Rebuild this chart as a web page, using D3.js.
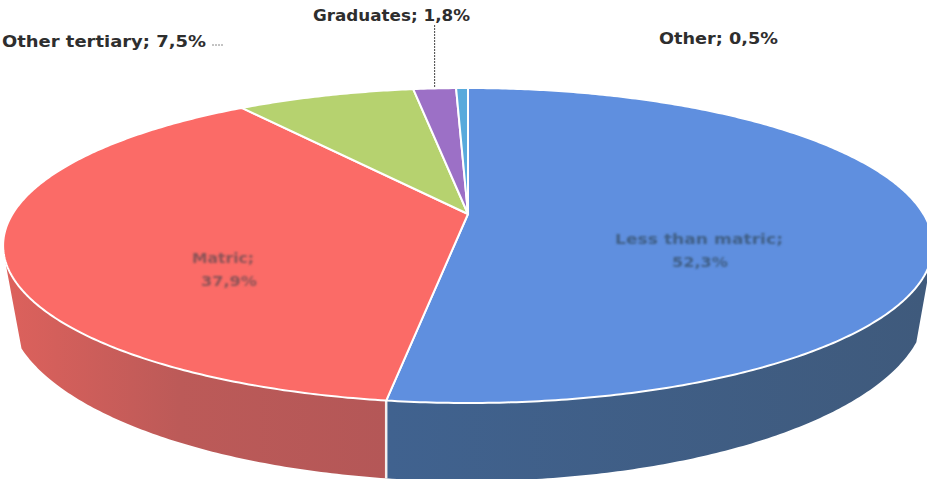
<!DOCTYPE html>
<html>
<head>
<meta charset="utf-8">
<script src="https://cdn.jsdelivr.net/npm/d3@7"></script>
<style>
html, body { margin: 0; padding: 0; background: #fff; }
svg { display: block; }
text { font-family: "DejaVu Sans", sans-serif; }
</style>
</head>
<body>
<svg id="chart" width="927" height="479"></svg>
<script>
// Shares of the population by highest level of education
const categories = ["Less than matric", "Matric", "Other tertiary", "Graduates", "Other"];
const shares = [52.3, 37.9, 7.5, 1.8, 0.5];

const topColors = ["#5f8fdf", "#fb6b67", "#b6d26f", "#9c70c6", "#58aadc"];

const svg = d3.select("#chart");
const pct = v => d3.format(".1f")(v).replace(".", ",") + "%";
const deg = d => d * Math.PI / 180;

const slices = d3.pie().sort(null).value(d => d)(shares);

// Perspective projection of a unit disc: the far edge is foreshortened
const tilt = 0.2;
const project = (cfg, a) => {
  const u = Math.sin(a), v = Math.cos(a), w = 1 + tilt * v;
  return [cfg.cx + cfg.rx * u / w, cfg.cy - cfg.ry * v / w];
};
const topFace = { cx: 468, cy: 214, rx: 455.5, ry: 151.2 };
const baseFace = { cx: 467, cy: 271, rx: 450, ry: 168 };

// Visible extent of the wall on the top rim and on the lower rim
const topLimits = [deg(104), deg(256)];
const baseLimits = [deg(113), deg(245)];

const line = d3.line();
const arcPoints = (cfg, a0, a1) => {
  const n = Math.max(2, Math.ceil(Math.abs(a1 - a0) / 0.01));
  return d3.range(n + 1).map(i => project(cfg, a0 + (a1 - a0) * i / n));
};

// Wall shading: darker toward the right on the blue piece, lighter toward the left on the red one
const wallStops = [
  [[0, "#40628f"], [1, "#3f5a7c"]],
  [[0, "#b45757"], [0.55, "#bc5a58"], [1, "#dc615c"]]
];
const wallEnds = [[388, 925], [388, 10]];

const defs = svg.append("defs");
wallStops.forEach((stops, i) => {
  defs.append("linearGradient")
    .attr("id", "wall" + i)
    .attr("gradientUnits", "userSpaceOnUse")
    .attr("x1", wallEnds[i][0]).attr("x2", wallEnds[i][1])
    .attr("y1", 0).attr("y2", 0)
    .selectAll("stop").data(stops).join("stop")
    .attr("offset", d => d[0])
    .attr("stop-color", d => d[1]);
});
defs.append("filter").attr("id", "soft")
  .attr("x", "-10%").attr("y", "-30%").attr("width", "120%").attr("height", "160%")
  .append("feGaussianBlur").attr("stdDeviation", 0.8);

// Front wall of the disc: only the two large slices reach it
const wall = svg.append("g");
slices.slice(0, 2).forEach((s, i) => {
  const pts = arcPoints(topFace, Math.max(s.startAngle, topLimits[0]), Math.min(s.endAngle, topLimits[1]))
    .concat(arcPoints(baseFace, Math.min(s.endAngle, baseLimits[1]), Math.max(s.startAngle, baseLimits[0])));
  wall.append("path")
    .attr("d", line(pts) + "Z")
    .attr("fill", `url(#wall${i})`);
});
// Seam between the two wall pieces
wall.append("path")
  .attr("d", line([project(topFace, slices[0].endAngle), project(baseFace, slices[0].endAngle)]))
  .attr("stroke", "#f4eeee")
  .attr("stroke-width", 2.5)
  .attr("fill", "none");

// Top face slices
const face = svg.append("g");
slices.forEach((s, i) => {
  const pts = [[topFace.cx, topFace.cy]].concat(arcPoints(topFace, s.startAngle, s.endAngle));
  face.append("path")
    .attr("d", line(pts) + "Z")
    .attr("fill", topColors[i])
    .attr("stroke", "#fff")
    .attr("stroke-width", 2)
    .attr("stroke-linejoin", "round");
});

// Leader lines for the outside labels
const grad = slices[3];
const gradTop = project(topFace, (grad.startAngle + grad.endAngle) / 2);
svg.append("line")
  .attr("x1", gradTop[0]).attr("x2", gradTop[0])
  .attr("y1", 25).attr("y2", 88)
  .attr("stroke", "#444").attr("stroke-width", 1).attr("stroke-dasharray", "2 1");
svg.append("line")
  .attr("x1", 212).attr("x2", 223).attr("y1", 45).attr("y2", 45)
  .attr("stroke", "#888").attr("stroke-width", 1).attr("stroke-dasharray", "2 1");

// Labels outside the disc
const outerLabels = [
  { i: 2, x: 2, y: 47, w: 204 },
  { i: 3, x: 313, y: 21, w: 157 },
  { i: 4, x: 659, y: 44, w: 119 }
];
svg.selectAll("text.outer").data(outerLabels).join("text")
  .attr("class", "outer")
  .attr("x", d => d.x).attr("y", d => d.y)
  .attr("font-size", 15)
  .attr("font-weight", "bold")
  .attr("fill", "#2e2e2e")
  .attr("textLength", d => d.w)
  .attr("lengthAdjust", "spacingAndGlyphs")
  .text(d => `${categories[d.i]}; ${pct(shares[d.i])}`);

// Labels sitting on the two large slices
const innerLines = [
  { text: categories[0] + ";", x: 615, y: 244, w: 168, fill: "#3f5f86" },
  { text: pct(shares[0]), x: 672, y: 267, w: 56, fill: "#3f5f86" },
  { text: categories[1] + ";", x: 192, y: 263, w: 62, fill: "#8a5357" },
  { text: pct(shares[1]), x: 201, y: 286, w: 56, fill: "#8a5357" }
];
svg.append("g").attr("filter", "url(#soft)")
  .selectAll("text").data(innerLines).join("text")
  .attr("x", d => d.x).attr("y", d => d.y)
  .attr("font-size", 14)
  .attr("font-weight", "bold")
  .attr("fill", d => d.fill)
  .attr("textLength", d => d.w)
  .attr("lengthAdjust", "spacingAndGlyphs")
  .text(d => d.text);
</script>
</body>
</html>
